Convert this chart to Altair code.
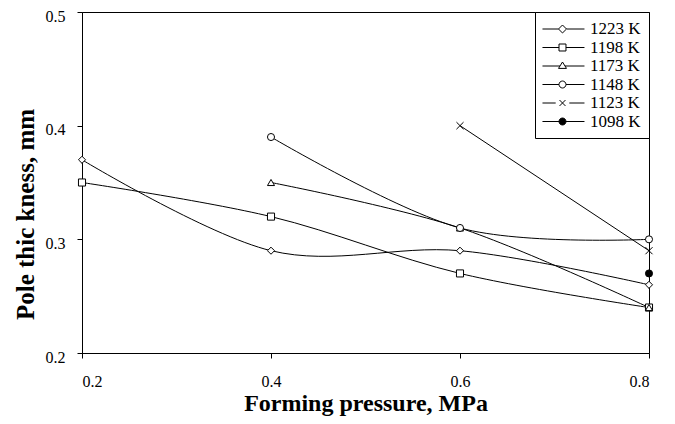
import altair as alt
import pandas as pd

# ---- data ----
pressure = [0.2, 0.4, 0.6, 0.8]
series_names = ["1223 K", "1198 K", "1173 K", "1148 K", "1123 K", "1098 K"]
t1223 = [0.37, 0.29, 0.29, 0.26]
t1198 = [0.35, 0.32, 0.27, 0.24]
t1173 = [None, 0.35, 0.31, 0.24]
t1148 = [None, 0.39, 0.31, 0.30]
t1123 = [None, None, 0.40, 0.29]
t1098 = [None, None, None, 0.27]
x_ticks = [0.2, 0.4, 0.6, 0.8]
y_ticks = [0.2, 0.3, 0.4, 0.5]

values = [t1223, t1198, t1173, t1148, t1123, t1098]
rows = []
for name, vals in zip(series_names, values):
    for p, v in zip(pressure, vals):
        if v is not None:
            rows.append({"series": name, "pressure": p, "thickness": v})
df = pd.DataFrame(rows)

FONT = "Liberation Serif"

# ---- marker shapes in the plot ----
x_path = "M-1,-1L1,1M-1,1L1,-1"
plot_shapes = ["diamond", "square", "triangle-up", "circle", x_path, "circle"]
fills = ["white", "white", "white", "white", "white", "black"]
strokes = ["black"] * 6

# ---- legend symbols: line + marker drawn as one path ----
c, L, R = 1.235, -1.12, 3.82
def f(v):
    return f"{v:.3f}"
h = 0.47
leg_diamond = (f"M{f(L)},0L{f(c-h)},0M{f(c+h)},0L{f(R)},0"
               f"M{f(c)},{f(-h)}L{f(c+h)},0L{f(c)},{f(h)}L{f(c-h)},0Z")
s = 0.41
leg_square = (f"M{f(L)},0L{f(c-s)},0M{f(c+s)},0L{f(R)},0"
              f"M{f(c-s)},{f(-s)}L{f(c+s)},{f(-s)}L{f(c+s)},{f(s)}L{f(c-s)},{f(s)}Z")
t = 0.47
leg_tri = (f"M{f(L)},0L{f(c-0.625*t)},0M{f(c+0.625*t)},0L{f(R)},0"
           f"M{f(c)},{f(-t)}L{f(c+t)},{f(0.6*t)}L{f(c-t)},{f(0.6*t)}Z")
r = 0.41
circ = (f"M{f(c+r)},0A{f(r)},{f(r)} 0 1,1 {f(c-r)},0"
        f"A{f(r)},{f(r)} 0 1,1 {f(c+r)},0Z")
leg_circle = f"M{f(L)},0L{f(c-r)},0M{f(c+r)},0L{f(R)},0" + circ
a = 0.35
leg_x = (f"M{f(L)},0L{f(c-0.8)},0M{f(c+0.8)},0L{f(R)},0"
         f"M{f(c-a)},{f(-a)}L{f(c+a)},{f(a)}M{f(c-a)},{f(a)}L{f(c+a)},{f(-a)}")
leg_dot = f"M{f(L)},0L{f(R)},0" + circ
legend_shapes = [leg_diamond, leg_square, leg_tri, leg_circle, leg_x, leg_dot]

xenc = alt.X("pressure:Q",
             scale=alt.Scale(domain=[0.2, 0.8], nice=False, zero=False),
             axis=alt.Axis(values=x_ticks, format=".1f", title="Forming pressure, MPa",
                           grid=False, tickSize=5, labelPadding=15,
                           titleFontSize=24,
                           titleY=57, titleBaseline="alphabetic"))
yenc = alt.Y("thickness:Q",
             scale=alt.Scale(domain=[0.2, 0.5], nice=False, zero=False),
             axis=alt.Axis(values=y_ticks, format=".1f", title="Pole thic kness, mm",
                           grid=False, tickSize=5, labelPadding=12, labelOffset=4,
                           titleFontSize=25,
                           titleX=-57, titleY=202, titleAlign="center",
                           titleBaseline="middle", titleAngle=270))

base = alt.Chart(df)

lines = base.mark_line(color="black", strokeWidth=1, interpolate="cardinal").encode(
    x=xenc, y=yenc, detail="series:N", order="pressure:Q")

points = base.mark_point(stroke="black", strokeWidth=1, opacity=1, size=50).encode(
    x=xenc, y=yenc,
    shape=alt.Shape("series:N", scale=alt.Scale(domain=series_names, range=plot_shapes), legend=None),
    fill=alt.Fill("series:N", scale=alt.Scale(domain=series_names, range=fills), legend=None),
)

def leg():
    return alt.Legend(title=None, orient="top-right", offset=0,
                      symbolSize=289, symbolStrokeWidth=1,
                      labelFont=FONT, labelFontSize=17, labelColor="black",
                      labelOffset=29, padding=8, rowPadding=1.5,
                      strokeColor="black", fillColor="white", labelLimit=200)

legend_layer = base.transform_filter("false").mark_point(
    strokeWidth=1, opacity=1, size=289).encode(
    x=xenc, y=yenc,
    shape=alt.Shape("series:N", scale=alt.Scale(domain=series_names, range=legend_shapes), legend=leg()),
    fill=alt.Fill("series:N", scale=alt.Scale(domain=series_names, range=fills), legend=leg()),
    stroke=alt.Stroke("series:N", scale=alt.Scale(domain=series_names, range=strokes), legend=leg()),
)

chart = alt.layer(lines, points, legend_layer).resolve_scale(
    shape="independent", fill="independent", stroke="independent"
).properties(
    width=567, height=341,
    autosize=alt.AutoSizeParams(type="none"),
    padding={"left": 74, "top": 4, "right": 10, "bottom": 63},
    background="white",
).configure_view(stroke="black", strokeWidth=1).configure_axis(
    domainColor="black", tickColor="black", labelColor="black", titleColor="black",
    labelFont=FONT, labelFontSize=16, titleFont=FONT, titleFontWeight="bold",
    domainWidth=1, tickWidth=1,
)

chart.save("out.html", embed_options={"renderer": "svg", "actions": False})
